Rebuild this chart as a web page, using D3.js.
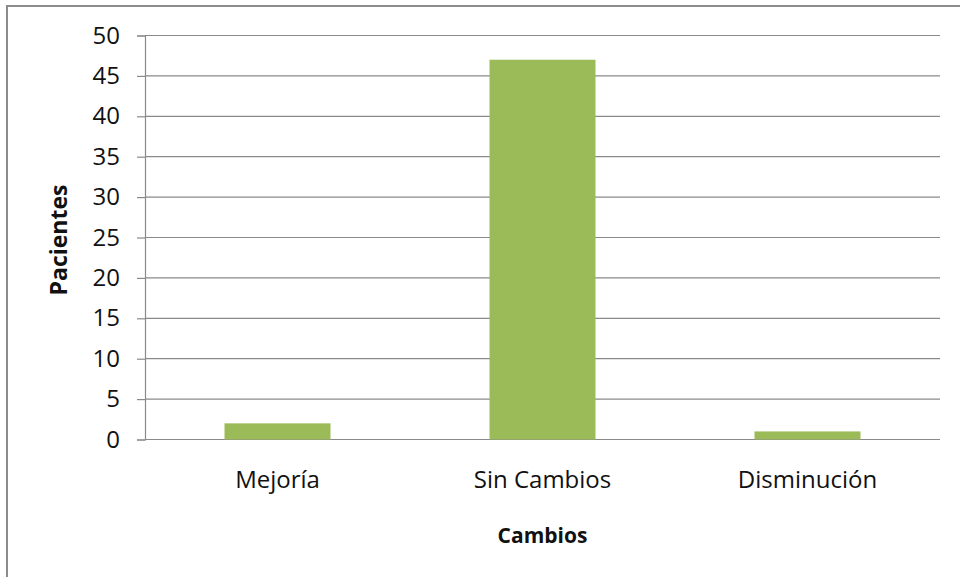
<!DOCTYPE html>
<html>
<head>
<meta charset="utf-8">
<script src="https://cdn.jsdelivr.net/npm/d3@7"></script>
<style>
  html, body { margin: 0; padding: 0; background: #fff; }
  svg { display: block; }
  text { font-family: "Open Sans", "Noto Sans", sans-serif; fill: #111; }
</style>
</head>
<body>
<svg id="chart" width="960" height="577"></svg>
<script>
// Patients by type of change
const categories = ["Mejoría", "Sin Cambios", "Disminución"];
const pacientes = [2, 47, 1];
const yTicks = [0, 5, 10, 15, 20, 25, 30, 35, 40, 45, 50];
const xTitle = "Cambios";
const yTitle = "Pacientes";

const svg = d3.select("#chart");
const W = 960, H = 577;
const plot = { left: 145, right: 940, top: 35.5, bottom: 439.5 };

// Outer frame (top and left edges)
svg.append("path")
  .attr("d", `M7,${H} V6 H${W}`)
  .attr("fill", "none")
  .attr("stroke", "#8c8c8c")
  .attr("stroke-width", 2);

const x = d3.scaleBand()
  .domain(categories)
  .range([plot.left, plot.right])
  .paddingInner(0.6)
  .paddingOuter(0.3);

const y = d3.scaleLinear()
  .domain([0, 50])
  .range([plot.bottom, plot.top]);

// Horizontal gridlines
svg.append("g")
  .selectAll("line")
  .data(yTicks)
  .join("line")
  .attr("x1", plot.left)
  .attr("x2", plot.right)
  .attr("y1", d => y(d))
  .attr("y2", d => y(d))
  .attr("stroke", "#8a8a8a")
  .attr("stroke-width", 1.2);

// Y axis with outward ticks
const yAxis = svg.append("g")
  .attr("transform", `translate(${plot.left},0)`)
  .call(d3.axisLeft(y).tickValues(yTicks).tickSize(8).tickPadding(17).tickFormat(d3.format("d")));
yAxis.select(".domain").attr("stroke", "#8a8a8a").attr("stroke-width", 1.2);
yAxis.selectAll(".tick line").attr("stroke", "#8a8a8a").attr("stroke-width", 1.2);
yAxis.selectAll(".tick text")
  .attr("font-family", "Open Sans")
  .attr("font-size", 24)
  .attr("fill", "#111");

// Bars
svg.append("g")
  .selectAll("rect")
  .data(categories.map((c, i) => ({ c, v: pacientes[i] })))
  .join("rect")
  .attr("x", d => x(d.c))
  .attr("width", x.bandwidth())
  .attr("y", d => y(d.v))
  .attr("height", d => y(0) - y(d.v))
  .attr("fill", "#9bbb59");

// Category labels
const xAxis = svg.append("g")
  .attr("transform", `translate(0,${plot.bottom})`)
  .call(d3.axisBottom(x).tickSize(0).tickPadding(31));
xAxis.select(".domain").remove();
xAxis.selectAll(".tick text")
  .attr("font-family", "Open Sans")
  .attr("font-size", 24)
  .attr("fill", "#111");

// Axis titles
svg.append("text")
  .attr("x", (plot.left + plot.right) / 2)
  .attr("y", 543)
  .attr("text-anchor", "middle")
  .attr("font-size", 21)
  .attr("font-weight", "bold")
  .text(xTitle);

svg.append("text")
  .attr("transform", `translate(67,${240}) rotate(-90)`)
  .attr("text-anchor", "middle")
  .attr("font-size", 23)
  .attr("font-weight", "bold")
  .text(yTitle);
</script>
</body>
</html>
